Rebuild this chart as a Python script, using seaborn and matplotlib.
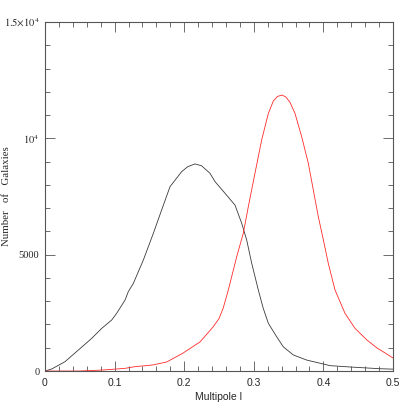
import numpy as np
import pandas as pd
import matplotlib
matplotlib.use("Agg")
import matplotlib.pyplot as plt
from matplotlib.ticker import MultipleLocator, FixedLocator
import seaborn as sns


# =========================
# Data
# =========================
black_l = [0.0, 0.0096, 0.0287, 0.0479, 0.067, 0.0814, 0.0958, 0.103, 0.115, 0.1197,
           0.127, 0.1413, 0.1557, 0.1676, 0.1796, 0.1964, 0.2050, 0.2155, 0.2250,
           0.2370, 0.2443, 0.2586, 0.273, 0.2826, 0.2898, 0.297, 0.3065, 0.3135,
           0.3209, 0.3329, 0.3424, 0.3568, 0.376, 0.400, 0.4095, 0.440,
           0.463, 0.480, 0.5]
black_n = [0, 86, 400, 900, 1400, 1830, 2190, 2480, 3050, 3410,
           3770, 4770, 5920, 6920, 7920, 8570, 8780, 8900, 8820,
           8500, 8140, 7640, 7130, 6350, 5630, 4630, 3480, 2700,
           2050, 1470, 1040, 690, 470, 300, 230, 170,
           130, 100, 80]

red_l = [0.0, 0.05, 0.0814, 0.1, 0.115, 0.129, 0.155, 0.175, 0.1983, 0.2227, 0.2414,
         0.2500, 0.2560, 0.2634, 0.2754, 0.2849, 0.2921, 0.3017, 0.3113, 0.3209,
         0.328, 0.334, 0.3405, 0.346, 0.352, 0.3592, 0.3688, 0.3783, 0.3855,
         0.3927, 0.400, 0.407, 0.4167, 0.431, 0.4454, 0.4626, 0.477, 0.490, 0.5]
red_n = [0, 0, 40, 80, 115, 185, 260, 390, 770, 1250, 1890,
         2250, 2700, 3480, 4910, 5920, 7060, 8500, 9930, 11070,
         11600, 11800, 11860, 11780, 11550, 11070, 10070, 8930, 7780,
         6630, 5630, 4630, 3480, 2480, 1835, 1330, 990, 750, 560]

x_ticks = [0, 0.1, 0.2, 0.3, 0.4, 0.5]
x_ticklabels = ["0", "0.1", "0.2", "0.3", "0.4", "0.5"]
y_ticks = [0, 5000, 10000, 15000]
y_ticklabels = ["0", "5000", r"$10^4$", r"$1.5{\times}10^4$"]

black = pd.DataFrame({"l": black_l, "n": black_n})
red = pd.DataFrame({"l": red_l, "n": red_n})


# =========================
# Plot
# =========================
sns.set_style("ticks")
plt.rcParams["mathtext.fontset"] = "stix"

fig = plt.figure(figsize=(4.15, 4.15), dpi=100)
ax = fig.add_axes([0.1084, 0.106, 0.8386, 0.841])

sns.lineplot(data=black, x="l", y="n", color="#3a3a3a", linewidth=0.6, ax=ax)
sns.lineplot(data=red, x="l", y="n", color="#ff2a2a", linewidth=0.6, ax=ax)

ax.set_xlim(0, 0.5)
ax.set_ylim(0, 15000)

ax.xaxis.set_major_locator(FixedLocator(x_ticks))
ax.xaxis.set_minor_locator(MultipleLocator(0.02))
ax.yaxis.set_major_locator(FixedLocator(y_ticks))
ax.yaxis.set_minor_locator(MultipleLocator(1000))

ax.set_xticklabels(x_ticklabels, family="Liberation Sans", fontsize=7.5)
ax.set_yticklabels(y_ticklabels, family="Liberation Serif", fontsize=7.5)

ax.tick_params(which="both", direction="in", top=True, right=True,
               color="#555555", width=0.6)
ax.tick_params(which="major", length=7)
ax.tick_params(which="minor", length=3.5)
ax.tick_params(axis="x", pad=5)
ax.tick_params(axis="y", pad=4)

for spine in ax.spines.values():
    spine.set_color("#555555")
    spine.set_linewidth(0.8)

ax.set_xlabel("Multipole l", family="Liberation Sans", fontsize=7.5, labelpad=3)
ax.set_ylabel("Number   of   Galaxies", family="Liberation Serif", fontsize=7.8)
ax.yaxis.set_label_coords(-0.098, 0.5)

fig.savefig("out.png", dpi=100)
plt.close(fig)
